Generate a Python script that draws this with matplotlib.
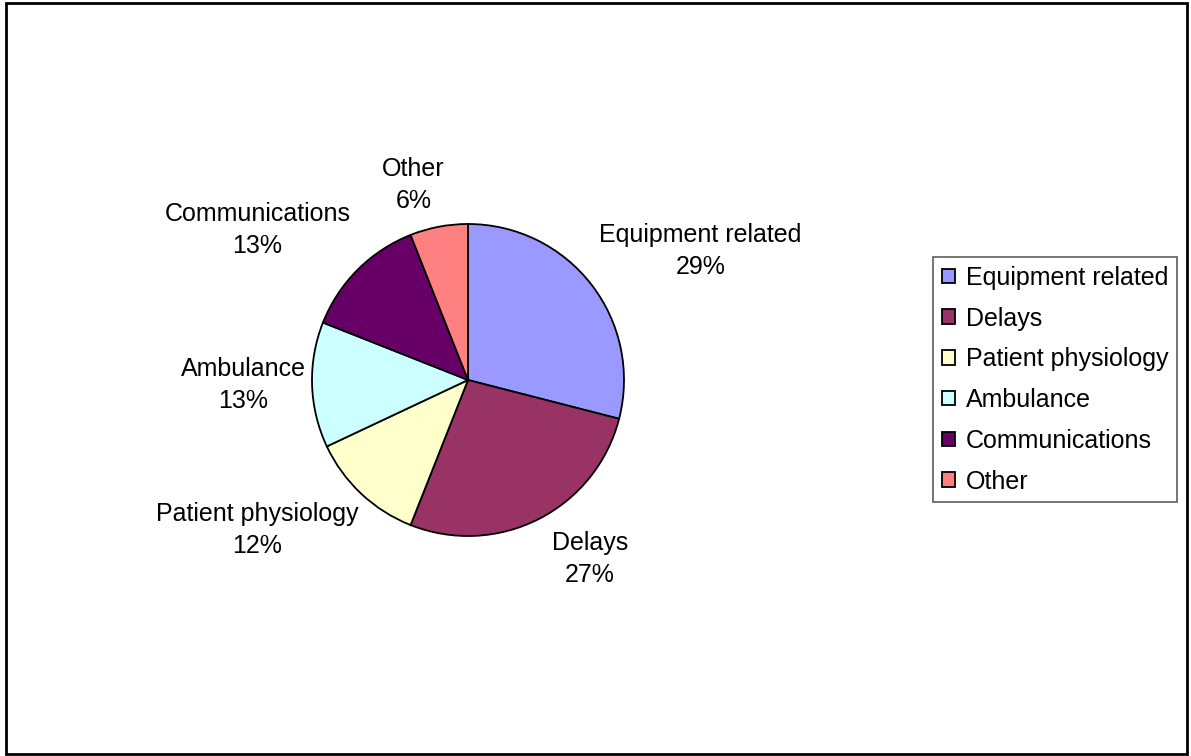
import matplotlib
matplotlib.use("Agg")
import matplotlib.pyplot as plt
from matplotlib.patches import Rectangle

plt.rcParams['font.family'] = ['Liberation Sans', 'DejaVu Sans']

categories = ['Equipment related', 'Delays', 'Patient physiology',
              'Ambulance', 'Communications', 'Other']
shares = [29, 27, 12, 13, 13, 6]
colors = ['#9999FF', '#993366', '#FFFFCC', '#CCFFFF', '#660066', '#FF8080']

# where each "name / pct" label sits, in pie-radius units
label_pos = [(1.49, 0.83), (0.78, -1.15), (-1.35, -0.96),
             (-1.44, -0.03), (-1.35, 0.96), (-0.35, 1.25)]

W, H = 1191, 756
fig = plt.figure(figsize=(W / 100, H / 100), dpi=100)

# pie axes: 1 data unit = 156 px, centred at (468, 380) px
R = 156
cx, cy = 468, 380
ax = fig.add_axes([(cx - 2 * R) / W, (H - cy - 2 * R) / H, 4 * R / W, 4 * R / H])
wedges, _ = ax.pie(shares, colors=colors, startangle=90, counterclock=False,
                   radius=1, wedgeprops=dict(edgecolor='black', linewidth=1.3))
ax.set_xlim(-2, 2)
ax.set_ylim(-2, 2)
ax.set_aspect('equal')
ax.axis('off')

for name, val, (x, y) in zip(categories, shares, label_pos):
    ax.text(x, y, f'{name}\n{val}%', ha='center', va='center',
            fontsize=18, linespacing=1.42)

leg = fig.legend(wedges, categories, loc='upper left',
                 bbox_to_anchor=(933 / W, 1 - 257 / H), fontsize=18,
                 frameon=True, fancybox=False, edgecolor='#333333',
                 handlelength=0.52, handleheight=0.52, handletextpad=0.45,
                 labelspacing=0.67, borderpad=0.35, borderaxespad=0)
leg.get_frame().set_linewidth(1.2)

# outer chart border
fig.patches.append(Rectangle((6 / W, 2 / H), 1181 / W, 751 / H,
                             transform=fig.transFigure, fill=False,
                             edgecolor='black', linewidth=2))

fig.savefig('out.png', dpi=100, facecolor='white')
